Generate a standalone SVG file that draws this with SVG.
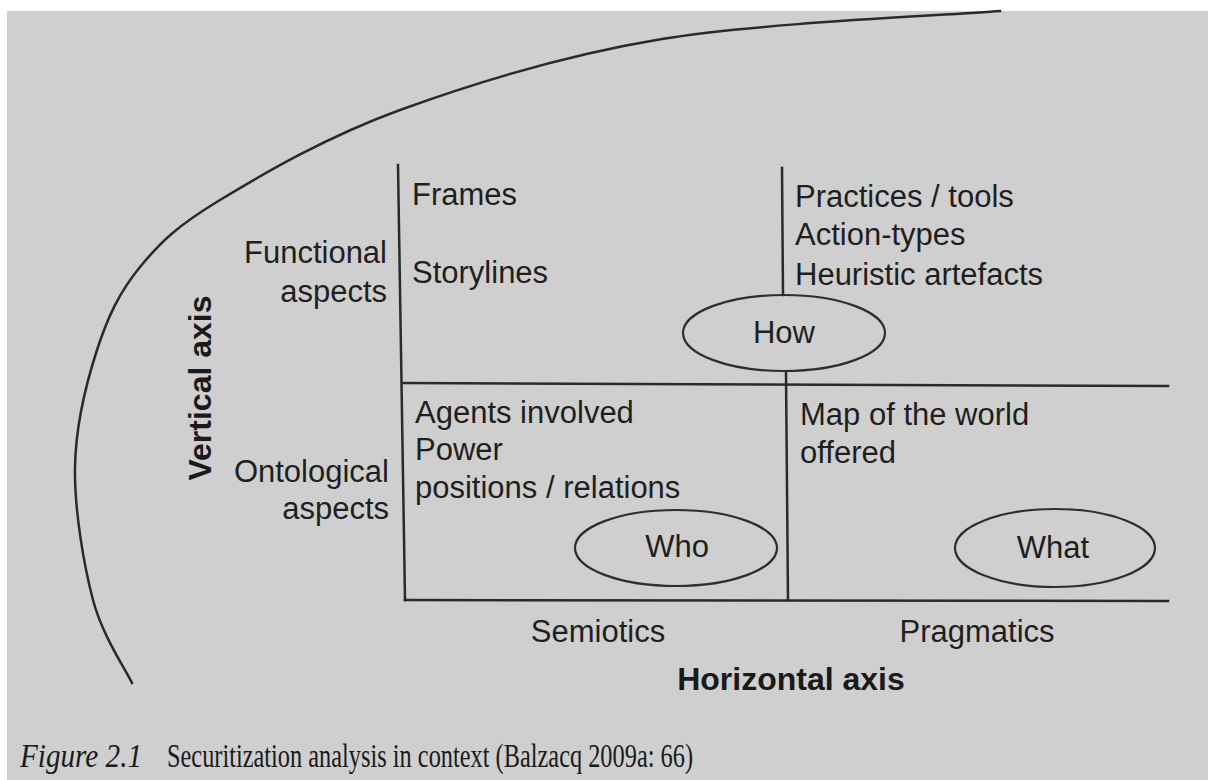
<svg xmlns="http://www.w3.org/2000/svg" width="1208" height="780" viewBox="0 0 1208 780">
  <style>
    .t { font-family: "Liberation Sans", Arial, sans-serif; font-size: 31px; fill: #1f1f1f; }
    .b { font-family: "Liberation Sans", Arial, sans-serif; font-size: 32px; font-weight: bold; fill: #1a1a1a; }
    .cap { font-family: "Liberation Serif", "Times New Roman", serif; font-size: 33px; fill: #1a1a1a; }
    .ln { stroke: #2a2a2a; stroke-width: 2.5; fill: none; stroke-linecap: square; }
    .el { stroke: #2e2e2e; stroke-width: 2.2; fill: none; }
  </style>
  <rect x="0" y="0" width="1208" height="780" fill="#ffffff"/>
  <rect x="7" y="11" width="1201" height="769" fill="#cfcfcf"/>

  <g id="context-curve">
    <path class="ln" stroke-width="2.4" stroke-linecap="butt" d="M132,683 C125.5,669.2 102.5,636 93,600 C83.5,564 74.3,508.7 75,467 C75.7,425.3 86.2,383.3 97,350 C107.8,316.7 119.5,292 140,267 C160.5,242 176.7,226.2 220,200 C263.3,173.8 326.3,136.8 400,110 C473.7,83.2 562,55.5 662,39 C762,22.5 943.7,15.7 1000,11"/>
  </g>

  <g id="connectors">
    <line class="ln" x1="398" y1="165" x2="405" y2="600"/>
    <line class="ln" x1="403" y1="383" x2="1168" y2="386"/>
    <line class="ln" x1="405" y1="600" x2="1168" y2="601"/>
    <line class="ln" x1="782" y1="168" x2="783" y2="295"/>
    <line class="ln" x1="786" y1="373" x2="788" y2="600"/>
  </g>

  <g id="functional-semiotics">
    <text class="t" x="412" y="205">Frames</text>
    <text class="t" x="412" y="283">Storylines</text>
  </g>

  <g id="functional-pragmatics">
    <text class="t" x="795" y="207">Practices / tools</text>
    <text class="t" x="795" y="245">Action-types</text>
    <text class="t" x="795" y="285">Heuristic artefacts</text>
  </g>

  <g id="how">
    <ellipse class="el" cx="784" cy="333" rx="101" ry="38"/>
    <text class="t" x="784" y="343" text-anchor="middle">How</text>
  </g>

  <g id="ontological-semiotics">
    <text class="t" x="415" y="423">Agents involved</text>
    <text class="t" x="415" y="460">Power</text>
    <text class="t" x="415" y="498">positions / relations</text>
  </g>

  <g id="who">
    <ellipse class="el" cx="676" cy="548" rx="101" ry="38"/>
    <text class="t" x="677" y="557" text-anchor="middle">Who</text>
  </g>

  <g id="ontological-pragmatics">
    <text class="t" x="800" y="425">Map of the world</text>
    <text class="t" x="800" y="463">offered</text>
  </g>

  <g id="what">
    <ellipse class="el" cx="1055" cy="548" rx="100" ry="39"/>
    <text class="t" x="1053" y="558" text-anchor="middle">What</text>
  </g>

  <g id="vertical-labels">
    <text class="t" x="387" y="263" text-anchor="end">Functional</text>
    <text class="t" x="387" y="302" text-anchor="end">aspects</text>
    <text class="t" x="389" y="482" text-anchor="end">Ontological</text>
    <text class="t" x="389" y="519" text-anchor="end">aspects</text>
    <text class="b" text-anchor="middle" transform="translate(211,388) rotate(-90)">Vertical axis</text>
  </g>

  <g id="horizontal-labels">
    <text class="t" x="598" y="642" text-anchor="middle">Semiotics</text>
    <text class="t" x="977" y="642" text-anchor="middle">Pragmatics</text>
    <text class="b" x="791" y="690" text-anchor="middle">Horizontal axis</text>
  </g>

  <g id="caption">
    <text class="cap" x="20" y="767" font-style="italic" textLength="122" lengthAdjust="spacingAndGlyphs">Figure 2.1</text>
    <text class="cap" x="167" y="767" textLength="526" lengthAdjust="spacingAndGlyphs">Securitization analysis in context (Balzacq 2009a: 66)</text>
  </g>
</svg>
